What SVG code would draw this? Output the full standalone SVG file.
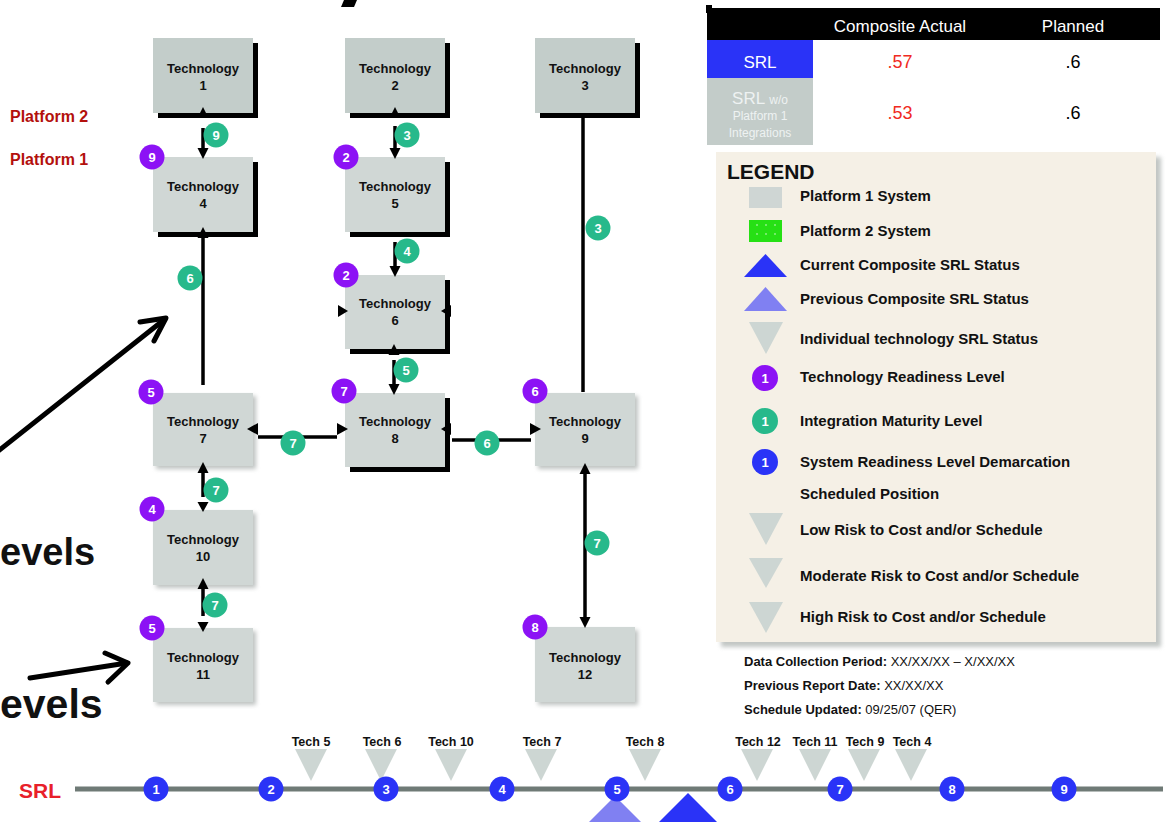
<svg xmlns="http://www.w3.org/2000/svg" width="1166" height="822" viewBox="0 0 1166 822">
<defs>
<filter id="dsh" x="-10%" y="-10%" width="130%" height="130%"><feGaussianBlur stdDeviation="0.5"/></filter>
<filter id="lsh" x="-10%" y="-10%" width="130%" height="130%"><feGaussianBlur stdDeviation="2"/></filter>
<style>
.box{fill:#d0d7d5}
.p2{fill:#c3cdca}
.dshadow{fill:#000;filter:url(#dsh)}
.lshadow{fill:#8a9390;opacity:.55;filter:url(#lsh)}
.nt{font-family:"Liberation Sans",Arial,sans-serif;font-weight:bold;font-size:13px;text-anchor:middle;fill:#111}
.trl{fill:#8c12f5}
.iml{fill:#27b98b}
.srl{fill:#2a33f7}
.cn{font-family:"Liberation Sans",Arial,sans-serif;font-weight:bold;font-size:13px;fill:#fff;text-anchor:middle}
.ln{stroke:#000;stroke-width:3.5;fill:none}
.big{stroke:#000;stroke-width:5;fill:none;stroke-linecap:round;stroke-linejoin:round}
.ah{fill:#000}
.lg{font-family:"Liberation Sans",Arial,sans-serif;font-weight:bold;font-size:15px;fill:#111}
.tri{fill:#cdd6d3}
.inf{font-family:"Liberation Sans",Arial,sans-serif;font-size:13px;fill:#111}
.tl{font-family:"Liberation Sans",Arial,sans-serif;font-weight:bold;font-size:12.5px;fill:#111;text-anchor:middle}
.pf{font-family:"Liberation Sans",Arial,sans-serif;font-weight:bold;font-size:16px;fill:#b3100c}
.ev{font-family:"Liberation Sans",Arial,sans-serif;font-weight:bold;fill:#111}
.tb{font-family:"Liberation Sans",Arial,sans-serif;text-anchor:middle}
</style>
</defs>
<rect width="1166" height="822" fill="#fff"/>

<!-- title fragments -->
<polygon points="344,0 357,0 354,7 341,7" fill="#000"/>
<rect x="706" y="5" width="6" height="8" fill="#000"/>

<!-- left labels -->
<g id="labels">
<text class="pf" x="10" y="122">Platform 2</text>
<text class="pf" x="10" y="165">Platform 1</text>
<text class="ev" x="0" y="565" font-size="38">evels</text>
<text class="ev" x="0" y="718" font-size="41">evels</text>
</g>

<!-- big annotation arrows -->
<g id="callouts">
<path class="big" d="M-3,452 L165,319"/>
<path class="big" d="M140,322 L166,318 L154,341"/>
<path class="big" d="M30,678 L127,663"/>
<path class="big" d="M105,653 L128,663 L108,682"/>
</g>

<!-- nodes -->
<g id="tech1"><rect class="dshadow" x="158" y="43" width="100" height="75"/><rect class="box p2" x="153" y="38" width="100" height="75"/><text class="nt" x="203" y="73">Technology</text><text class="nt" x="203" y="90">1</text></g>
<g id="tech2"><rect class="dshadow" x="350" y="43" width="100" height="75"/><rect class="box p2" x="345" y="38" width="100" height="75"/><text class="nt" x="395" y="73">Technology</text><text class="nt" x="395" y="90">2</text></g>
<g id="tech3"><rect class="dshadow" x="540" y="43" width="100" height="75"/><rect class="box p2" x="535" y="38" width="100" height="75"/><text class="nt" x="585" y="73">Technology</text><text class="nt" x="585" y="90">3</text></g>
<g id="tech4"><rect class="dshadow" x="158" y="162" width="100" height="75"/><rect class="box" x="153" y="157" width="100" height="75"/><text class="nt" x="203" y="191">Technology</text><text class="nt" x="203" y="208">4</text>
<circle class="trl" cx="152" cy="157" r="12.5"/><text class="cn" x="152" y="162">9</text></g>
<g id="tech5"><rect class="dshadow" x="350" y="162" width="100" height="75"/><rect class="box" x="345" y="157" width="100" height="75"/><text class="nt" x="395" y="191">Technology</text><text class="nt" x="395" y="208">5</text>
<circle class="trl" cx="346" cy="157" r="12.5"/><text class="cn" x="346" y="162">2</text></g>
<g id="tech6"><rect class="dshadow" x="350" y="280" width="100" height="74"/><rect class="box" x="345" y="275" width="100" height="74"/><text class="nt" x="395" y="308">Technology</text><text class="nt" x="395" y="325">6</text>
<circle class="trl" cx="346" cy="275" r="12.5"/><text class="cn" x="346" y="280">2</text></g>
<g id="tech7"><rect class="lshadow" x="156" y="396" width="100" height="73"/><rect class="box" x="153" y="393" width="100" height="73"/><text class="nt" x="203" y="426">Technology</text><text class="nt" x="203" y="443">7</text>
<circle class="trl" cx="151" cy="392" r="12.5"/><text class="cn" x="151" y="397">5</text></g>
<g id="tech8"><rect class="dshadow" x="350" y="398" width="100" height="74"/><rect class="box" x="345" y="393" width="100" height="74"/><text class="nt" x="395" y="426">Technology</text><text class="nt" x="395" y="443">8</text>
<circle class="trl" cx="344" cy="391" r="12.5"/><text class="cn" x="344" y="396">7</text></g>
<g id="tech9"><rect class="lshadow" x="538" y="396" width="100" height="73"/><rect class="box" x="535" y="393" width="100" height="73"/><text class="nt" x="585" y="426">Technology</text><text class="nt" x="585" y="443">9</text>
<circle class="trl" cx="535" cy="391" r="12.5"/><text class="cn" x="535" y="396">6</text></g>
<g id="tech10"><rect class="lshadow" x="156" y="513" width="100" height="75"/><rect class="box" x="153" y="510" width="100" height="75"/><text class="nt" x="203" y="544">Technology</text><text class="nt" x="203" y="561">10</text>
<circle class="trl" cx="152" cy="509" r="12.5"/><text class="cn" x="152" y="514">4</text></g>
<g id="tech11"><rect class="lshadow" x="156" y="631" width="100" height="74"/><rect class="box" x="153" y="628" width="100" height="74"/><text class="nt" x="203" y="662">Technology</text><text class="nt" x="203" y="679">11</text>
<circle class="trl" cx="152" cy="628" r="12.5"/><text class="cn" x="152" y="633">5</text></g>
<g id="tech12"><rect class="lshadow" x="538" y="630" width="100" height="75"/><rect class="box" x="535" y="627" width="100" height="75"/><text class="nt" x="585" y="662">Technology</text><text class="nt" x="585" y="679">12</text>
<circle class="trl" cx="535" cy="627" r="12.5"/><text class="cn" x="535" y="632">8</text></g>

<!-- connectors -->
<g id="connectors">
<polygon class="ah" points="203,107 197.5,118 208.5,118"/>
<path class="ln" d="M203,128 V150"/>
<polygon class="ah" points="197.5,148 208.5,148 203,159"/>
<polygon class="ah" points="395,107 389.5,118 400.5,118"/>
<path class="ln" d="M395,126 V150"/>
<polygon class="ah" points="389.5,148 400.5,148 395,159"/>
<polygon class="ah" points="203,227 197.5,238 208.5,238"/>
<path class="ln" d="M203,236 V385"/>
<path class="ln" d="M395,242 V268"/>
<polygon class="ah" points="389.5,266 400.5,266 395,277"/>
<polygon class="ah" points="338,305 338,317 348,311"/>
<polygon class="ah" points="451,305 451,317 441,311"/>
<polygon class="ah" points="394,344 388.5,355 399.5,355"/>
<path class="ln" d="M394,360 V386"/>
<polygon class="ah" points="388.5,384 399.5,384 394,395"/>
<path class="ln" d="M583,118 V392"/>
<polygon class="ah" points="258,423 258,435 247,429"/>
<path class="ln" d="M258,437 H337"/>
<polygon class="ah" points="337,423 337,435 348,429"/>
<polygon class="ah" points="451,423 451,435 441,429"/>
<path class="ln" d="M452,440 H531"/>
<polygon class="ah" points="530,423 530,435 541,429"/>
<polygon class="ah" points="203,462 197.5,473 208.5,473"/>
<path class="ln" d="M203,471 V497"/>
<polygon class="ah" points="197.5,502 208.5,502 203,512"/>
<polygon class="ah" points="203,578 197.5,589 208.5,589"/>
<path class="ln" d="M203,587 V616"/>
<polygon class="ah" points="197.5,622 208.5,622 203,632"/>
<polygon class="ah" points="585,463 579.5,474 590.5,474"/>
<path class="ln" d="M585,472 V619"/>
<polygon class="ah" points="579.5,617 590.5,617 585,628"/>
</g>

<!-- IML badges -->
<g id="iml-badges">
<circle class="iml" cx="216" cy="135" r="12.5"/><text class="cn" x="216" y="140">9</text>
<circle class="iml" cx="407" cy="135" r="12.5"/><text class="cn" x="407" y="140">3</text>
<circle class="iml" cx="407" cy="251" r="12.5"/><text class="cn" x="407" y="256">4</text>
<circle class="iml" cx="190" cy="278" r="12.5"/><text class="cn" x="190" y="283">6</text>
<circle class="iml" cx="598" cy="228" r="12.5"/><text class="cn" x="598" y="233">3</text>
<circle class="iml" cx="406" cy="370" r="12.5"/><text class="cn" x="406" y="375">5</text>
<circle class="iml" cx="293" cy="443" r="12.5"/><text class="cn" x="293" y="448">7</text>
<circle class="iml" cx="487" cy="443" r="12.5"/><text class="cn" x="487" y="448">6</text>
<circle class="iml" cx="216" cy="490" r="12.5"/><text class="cn" x="216" y="495">7</text>
<circle class="iml" cx="597" cy="543" r="12.5"/><text class="cn" x="597" y="548">7</text>
<circle class="iml" cx="215" cy="605" r="12.5"/><text class="cn" x="215" y="610">7</text>
</g>

<!-- SRL table -->
<g id="srl-table">
<rect x="707" y="8" width="453" height="32" fill="#000"/>
<text class="tb" x="900" y="32" font-size="17" fill="#fff">Composite Actual</text>
<text class="tb" x="1073" y="32" font-size="17" fill="#fff">Planned</text>
<rect x="707" y="40" width="106" height="38" fill="#2a33f7"/>
<text class="tb" x="760" y="68" font-size="17" fill="#fff">SRL</text>
<text class="tb" x="900" y="68" font-size="18" fill="#f02a22">.57</text>
<text class="tb" x="1073" y="68" font-size="18" fill="#000">.6</text>
<rect x="707" y="78" width="106" height="67" fill="#c3ccc9"/>
<text class="tb" x="760" y="104" font-size="17" fill="#eef2f2">SRL <tspan font-size="12">w/o</tspan></text>
<text class="tb" x="760" y="120" font-size="12" fill="#eef2f2">Platform 1</text>
<text class="tb" x="760" y="137" font-size="12" fill="#eef2f2">Integrations</text>
<text class="tb" x="900" y="119" font-size="18" fill="#f02a22">.53</text>
<text class="tb" x="1073" y="119" font-size="18" fill="#000">.6</text>
</g>

<!-- legend -->
<g id="legend">
<rect x="721" y="157" width="440" height="490" fill="#9aa19e" opacity=".6" filter="url(#lsh)"/>
<rect x="716" y="152" width="440" height="490" fill="#f5f0e6"/>
<text x="727" y="179" font-family="Liberation Sans, Arial, sans-serif" font-weight="bold" font-size="21" fill="#111">LEGEND</text>
<rect x="749" y="187" width="33" height="21" fill="#cfd6d4"/>
<text class="lg" x="800" y="201">Platform 1 System</text>
<rect x="749" y="220" width="33" height="22" fill="#26e014"/>
<g fill="#fff"><circle cx="757" cy="225" r=".7"/><circle cx="766" cy="225" r=".7"/><circle cx="775" cy="225" r=".7"/><circle cx="757" cy="234" r=".7"/><circle cx="766" cy="234" r=".7"/><circle cx="775" cy="234" r=".7"/></g>
<text class="lg" x="800" y="236">Platform 2 System</text>
<polygon points="744,277 765.5,254 787,277" fill="#2a33f7"/>
<text class="lg" x="800" y="270">Current Composite SRL Status</text>
<polygon points="744,311 765.5,287 787,311" fill="#8080f2"/>
<text class="lg" x="800" y="304">Previous Composite SRL Status</text>
<polygon class="tri" points="749,322 783,322 766,354"/>
<text class="lg" x="800" y="344">Individual technology SRL Status</text>
<circle class="trl" cx="765" cy="378" r="13"/><text class="cn" x="765" y="383">1</text>
<text class="lg" x="800" y="382">Technology Readiness Level</text>
<circle class="iml" cx="765" cy="421" r="13"/><text class="cn" x="765" y="426">1</text>
<text class="lg" x="800" y="426">Integration Maturity Level</text>
<circle class="srl" cx="765" cy="462" r="13"/><text class="cn" x="765" y="467">1</text>
<text class="lg" x="800" y="467">System Readiness Level Demarcation</text>
<text class="lg" x="800" y="499">Scheduled Position</text>
<polygon class="tri" points="749,513 783,513 766,545"/>
<text class="lg" x="800" y="535">Low Risk to Cost and/or Schedule</text>
<polygon class="tri" points="749,558 783,558 766,588"/>
<text class="lg" x="800" y="581">Moderate Risk to Cost and/or Schedule</text>
<polygon class="tri" points="749,602 783,602 766,633"/>
<text class="lg" x="800" y="622">High Risk to Cost and/or Schedule</text>
</g>

<!-- info -->
<g id="info">
<text class="inf" x="744" y="666"><tspan font-weight="bold">Data Collection Period:</tspan> XX/XX/XX – X/XX/XX</text>
<text class="inf" x="744" y="690"><tspan font-weight="bold">Previous Report Date:</tspan> XX/XX/XX</text>
<text class="inf" x="744" y="714"><tspan font-weight="bold">Schedule Updated:</tspan> 09/25/07 (QER)</text>
</g>

<!-- SRL timeline -->
<g id="timeline">
<text x="19" y="798" font-family="Liberation Sans, Arial, sans-serif" font-weight="bold" font-size="21" fill="#e8202a">SRL</text>
<path d="M75,789 H1163" stroke="#6f7a76" stroke-width="5"/>
<polygon points="615,796 562,849 668,849" fill="#8080f2"/>
<polygon points="688,793 630,851 746,851" fill="#2a33f7"/>
<polygon class="tri" points="295,749 327,749 311,781"/>
<polygon class="tri" points="365,749 397,749 381,781"/>
<polygon class="tri" points="435,749 467,749 451,781"/>
<polygon class="tri" points="525,749 557,749 541,781"/>
<polygon class="tri" points="629,749 661,749 645,781"/>
<polygon class="tri" points="741,749 773,749 757,781"/>
<polygon class="tri" points="799,749 831,749 815,781"/>
<polygon class="tri" points="848,749 880,749 864,781"/>
<polygon class="tri" points="895,749 927,749 911,781"/>
<text class="tl" x="311" y="746">Tech 5</text>
<text class="tl" x="382" y="746">Tech 6</text>
<text class="tl" x="451" y="746">Tech 10</text>
<text class="tl" x="542" y="746">Tech 7</text>
<text class="tl" x="645" y="746">Tech 8</text>
<text class="tl" x="758" y="746">Tech 12</text>
<text class="tl" x="815" y="746">Tech 11</text>
<text class="tl" x="865" y="746">Tech 9</text>
<text class="tl" x="912" y="746">Tech 4</text>
<g>
<circle class="srl" cx="156" cy="789" r="12.5"/><text class="cn" x="156" y="794">1</text>
<circle class="srl" cx="271" cy="789" r="12.5"/><text class="cn" x="271" y="794">2</text>
<circle class="srl" cx="386" cy="789" r="12.5"/><text class="cn" x="386" y="794">3</text>
<circle class="srl" cx="502" cy="789" r="12.5"/><text class="cn" x="502" y="794">4</text>
<circle class="srl" cx="617" cy="789" r="12.5"/><text class="cn" x="617" y="794">5</text>
<circle class="srl" cx="730" cy="789" r="12.5"/><text class="cn" x="730" y="794">6</text>
<circle class="srl" cx="840" cy="789" r="12.5"/><text class="cn" x="840" y="794">7</text>
<circle class="srl" cx="952" cy="789" r="12.5"/><text class="cn" x="952" y="794">8</text>
<circle class="srl" cx="1064" cy="789" r="12.5"/><text class="cn" x="1064" y="794">9</text>
</g>
</g>
</svg>
